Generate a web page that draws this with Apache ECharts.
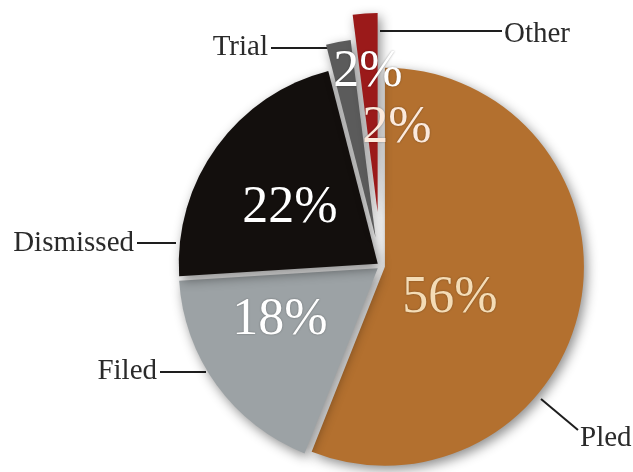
<!DOCTYPE html>
<html>
<head>
<meta charset="utf-8">
<script src="https://cdn.jsdelivr.net/npm/echarts@6/dist/echarts.min.js"></script>
<style>
  html, body { margin: 0; padding: 0; background: #ffffff; }
  #chart { width: 633px; height: 472px; }
</style>
</head>
<body>
<div id="chart"></div>
<script>
// How cases ended, share of all cases (%)
const outcomes = ['Pled', 'Filed', 'Dismissed', 'Trial', 'Other'];
const shares = [56, 18, 22, 2, 2];

// Slice fills and percentage text colours, in the same order
const sliceColors = ['#b3702f', '#9ca2a5', '#130f0d', '#5b5b5b', '#9b1a1a'];
const pctColors = ['#f4dcb6', '#ffffff', '#ffffff', '#ffffff', '#fbe9dc'];

const CENTER = [381, 266];
const RADIUS = 199;
const SERIF = '"Liberation Serif", "DejaVu Serif", serif';

// Name callouts: text anchor and leader line for each slice
const callouts = {
  Pled:      { x: 580, y: 438, align: 'left',  line: [[541, 399], [578, 430]] },
  Filed:     { x: 157, y: 371, align: 'right', line: [[206, 372], [160, 372]] },
  Dismissed: { x: 134, y: 243, align: 'right', line: [[176, 243], [137, 243]] },
  Trial:     { x: 268, y: 47,  align: 'right', line: [[330, 48], [271, 48]] },
  Other:     { x: 504, y: 34,  align: 'left',  line: [[380, 31], [502, 31]] }
};
// Percentage text anchors inside the slices
const pctSpots = {
  Pled: [450, 298], Filed: [280, 320], Dismissed: [290, 208], Trial: [368, 72], Other: [397, 128]
};

const hiddenStyle = { color: 'transparent', borderWidth: 0, shadowBlur: 0, shadowColor: 'transparent' };

function sliceData(visible, selectedNames) {
  return outcomes.map((name, i) => ({
    name: name,
    value: shares[i],
    selected: selectedNames.indexOf(name) >= 0,
    itemStyle: visible.indexOf(name) >= 0 ? { color: sliceColors[i] } : hiddenStyle
  }));
}

const sliceStyle = {
  borderWidth: 0,
  shadowBlur: 12,
  shadowColor: 'rgba(0,0,0,0.45)',
  shadowOffsetX: 3,
  shadowOffsetY: 4
};

const basePie = {
  type: 'pie',
  center: CENTER,
  radius: RADIUS,
  startAngle: 90,
  clockwise: true,
  silent: true,
  animation: false,
  avoidLabelOverlap: false,
  label: { show: false },
  labelLine: { show: false },
  emphasis: { disabled: true },
  itemStyle: sliceStyle
};

const chart = echarts.init(document.getElementById('chart'), null, { renderer: 'canvas' });

chart.setOption({
  backgroundColor: '#ffffff',
  animation: false,
  series: [
    // main body of the pie, slices eased slightly apart
    Object.assign({}, basePie, {
      name: 'body',
      selectedMode: 'multiple',
      selectedOffset: 4,
      data: sliceData(['Pled', 'Filed', 'Dismissed'], ['Pled', 'Filed', 'Dismissed'])
    }),
    // Trial, pulled out a little
    Object.assign({}, basePie, {
      name: 'trial',
      selectedMode: 'single',
      selectedOffset: 29,
      data: sliceData(['Trial'], ['Trial'])
    }),
    // Other, pulled out further
    Object.assign({}, basePie, {
      name: 'other',
      selectedMode: 'single',
      selectedOffset: 54,
      data: sliceData(['Other'], ['Other'])
    }),
    // outcome names with leader lines
    Object.assign({}, basePie, {
      name: 'names',
      data: sliceData([], []),
      label: {
        show: true,
        position: 'outside',
        formatter: '{b}',
        fontFamily: SERIF,
        fontSize: 29,
        color: '#2a2a2a'
      },
      labelLine: {
        show: true,
        lineStyle: { color: '#1e1e1e', width: 2 }
      },
      labelLayout: function (p) {
        const c = callouts[outcomes[p.dataIndex]];
        return {
          x: c.x, y: c.y,
          align: c.align,
          verticalAlign: 'middle',
          labelLinePoints: c.line
        };
      }
    }),
    // percentage figures
    Object.assign({}, basePie, {
      name: 'percent',
      data: sliceData([], []).map((d, i) => Object.assign(d, { label: { color: pctColors[i] } })),
      label: {
        show: true,
        position: 'inside',
        formatter: '{d}%',
        fontFamily: SERIF,
        fontSize: 52,
        textShadowColor: 'rgba(0,0,0,0.35)',
        textShadowBlur: 2
      },
      labelLayout: function (p) {
        const s = pctSpots[outcomes[p.dataIndex]];
        return { x: s[0], y: s[1], align: 'center', verticalAlign: 'middle' };
      }
    })
  ]
});
</script>
</body>
</html>
